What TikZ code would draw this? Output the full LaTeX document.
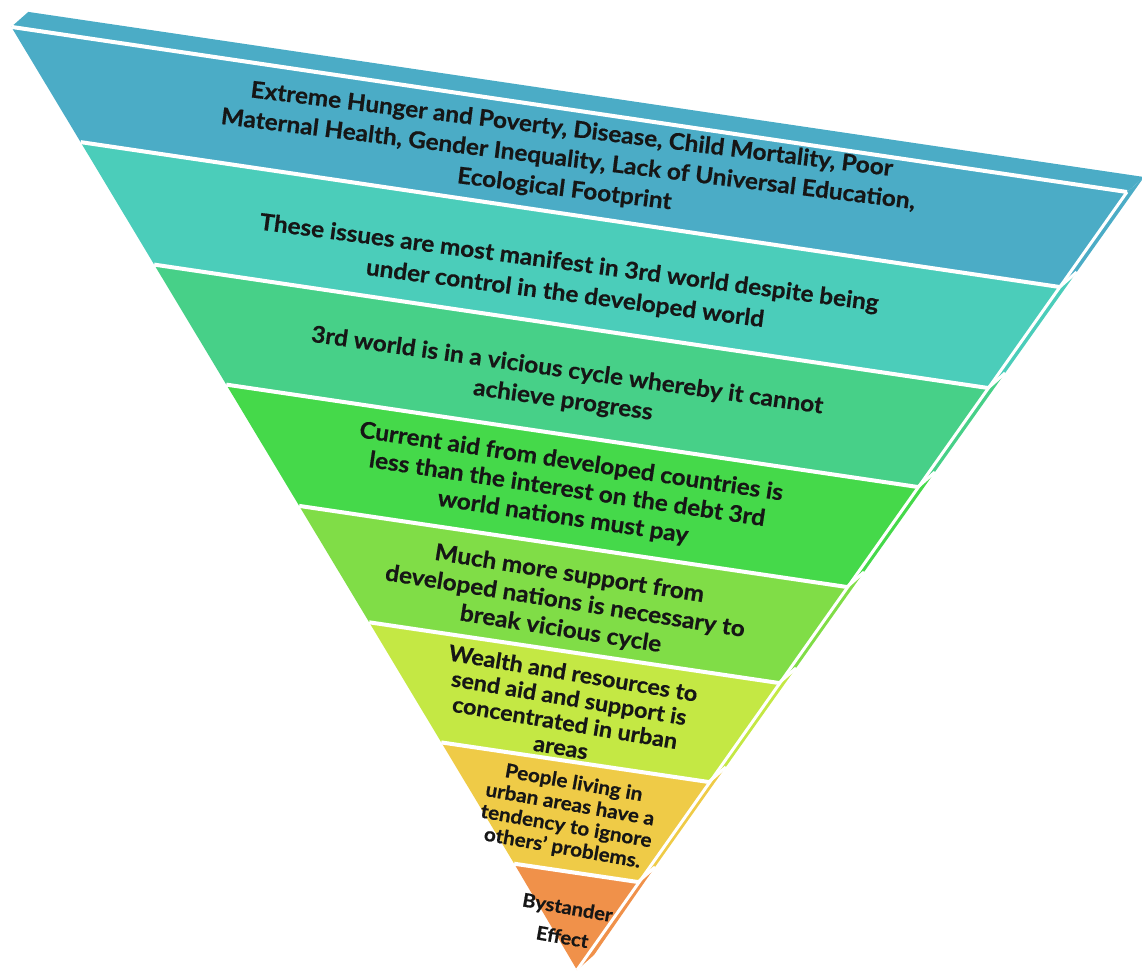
\documentclass[tikz,border=0pt]{standalone}
\usepackage{fontspec}
\setmainfont{Lato}[BoldFeatures={FakeBold=0.6,FakeStretch=1.06}]
\definecolor{c1}{HTML}{4BACC6}
\definecolor{c2}{HTML}{4BCDBA}
\definecolor{c3}{HTML}{47D088}
\definecolor{c4}{HTML}{45D94A}
\definecolor{c5}{HTML}{80DD47}
\definecolor{c6}{HTML}{C4E844}
\definecolor{c7}{HTML}{EFCB47}
\definecolor{c8}{HTML}{F0914A}
\definecolor{ink}{HTML}{161616}
\tikzset{
  sep/.style={white, line width=4pt},
  sidesep/.style={white, line width=3pt},
  lbl/.style={text=ink, align=center, inner sep=0pt},
}
\newcommand{\fs}[2]{\bfseries\fontsize{#1}{#2}\selectfont}
\begin{document}
\begin{tikzpicture}[x=1pt,y=-1pt]
\useasboundingbox (0,0) rectangle (1142,972);
% left ends of boundaries
\coordinate (A0) at (11.3,26.9);
\coordinate (A1) at (80.6,142.1);
\coordinate (A2) at (154.2,264.6);
\coordinate (A3) at (226.3,384.6);
\coordinate (A4) at (299.2,505.9);
\coordinate (A5) at (369.2,622.3);
\coordinate (A6) at (441.3,742.4);
\coordinate (A7) at (514.2,863.7);
% right ends of boundaries
\coordinate (R0) at (1127,192);
\coordinate (R1) at (1059.7,287);
\coordinate (R2) at (988.1,388);
\coordinate (R3) at (917.9,487);
\coordinate (R4) at (847,587);
\coordinate (R5) at (779,683);
\coordinate (R6) at (708.8,782);
\coordinate (R7) at (638,882);
\coordinate (T) at (577,970);
% back (depth) points
\foreach \i in {0,...,7} {\coordinate (S\i) at ([shift={(17,-15)}]R\i);}
\coordinate (ST) at ([shift={(17,-15)}]T);
\coordinate (B0) at ([shift={(17,-15)}]A0);
% top face
\fill[c1] (A0) -- (R0) -- (S0) -- (B0) -- cycle;
% front bands
\fill[c1] (A0) -- (R0) -- (R1) -- (A1) -- cycle;
\fill[c2] (A1) -- (R1) -- (R2) -- (A2) -- cycle;
\fill[c3] (A2) -- (R2) -- (R3) -- (A3) -- cycle;
\fill[c4] (A3) -- (R3) -- (R4) -- (A4) -- cycle;
\fill[c5] (A4) -- (R4) -- (R5) -- (A5) -- cycle;
\fill[c6] (A5) -- (R5) -- (R6) -- (A6) -- cycle;
\fill[c7] (A6) -- (R6) -- (R7) -- (A7) -- cycle;
\fill[c8] (A7) -- (R7) -- (T) -- cycle;
% side face pieces
\fill[c1] (R0) -- (S0) -- (S1) -- (R1) -- cycle;
\fill[c2] (R1) -- (S1) -- (S2) -- (R2) -- cycle;
\fill[c3] (R2) -- (S2) -- (S3) -- (R3) -- cycle;
\fill[c4] (R3) -- (S3) -- (S4) -- (R4) -- cycle;
\fill[c5] (R4) -- (S4) -- (S5) -- (R5) -- cycle;
\fill[c6] (R5) -- (S5) -- (S6) -- (R6) -- cycle;
\fill[c7] (R6) -- (S6) -- (S7) -- (R7) -- cycle;
\fill[c8] (R7) -- (S7) -- (ST) -- (T) -- cycle;
% white separators
\draw[sep] (A0) -- (R0);
\foreach \i in {1,...,7} {\draw[sep] (A\i) -- (R\i);}
\draw[sidesep] (R0) -- (T);
\foreach \i in {1,...,7} {\draw[sidesep] (R\i) -- (S\i);}
% labels
\node[lbl, font=\fs{23}{30}, rotate=-7] (t1) at (568,160)
  {Extreme Hunger and Poverty, Disease, Child Mortality, Poor\\Maternal Health, Gender Inequality, Lack of Universal Education,\\Ecological Footprint};
\node[lbl, font=\fs{23}{31}, rotate=-7.5] (t2) at (567,279)
  {These issues are most manifest in 3rd world despite being\\under control in the developed world};
\node[lbl, font=\fs{23}{30}, rotate=-8] (t3) at (565,386)
  {3rd world is in a vicious cycle whereby it cannot\\achieve progress};
\node[lbl, font=\fs{23}{28}, rotate=-8.5] (t4) at (567,490)
  {Current aid from developed countries is\\less than the interest on the debt 3rd\\world nations must pay};
\node[lbl, font=\fs{23}{28}, rotate=-9] (t5) at (565,602)
  {Much more support from\\developed nations is necessary to\\break vicious cycle};
\node[lbl, font=\fs{22}{25}, rotate=-9.5] (t6) at (567,710)
  {Wealth and resources to\\send aid and support is\\concentrated in urban\\areas};
\node[lbl, font=\fs{19.5}{22}, rotate=-10] (t7) at (568,816)
  {People living in\\urban areas have a\\tendency to ignore\\others' problems.};
\node[lbl, font=\fs{19}{30}, rotate=-10] (t8) at (565,922)
  {Bystander\\Effect};
\end{tikzpicture}
\end{document}
